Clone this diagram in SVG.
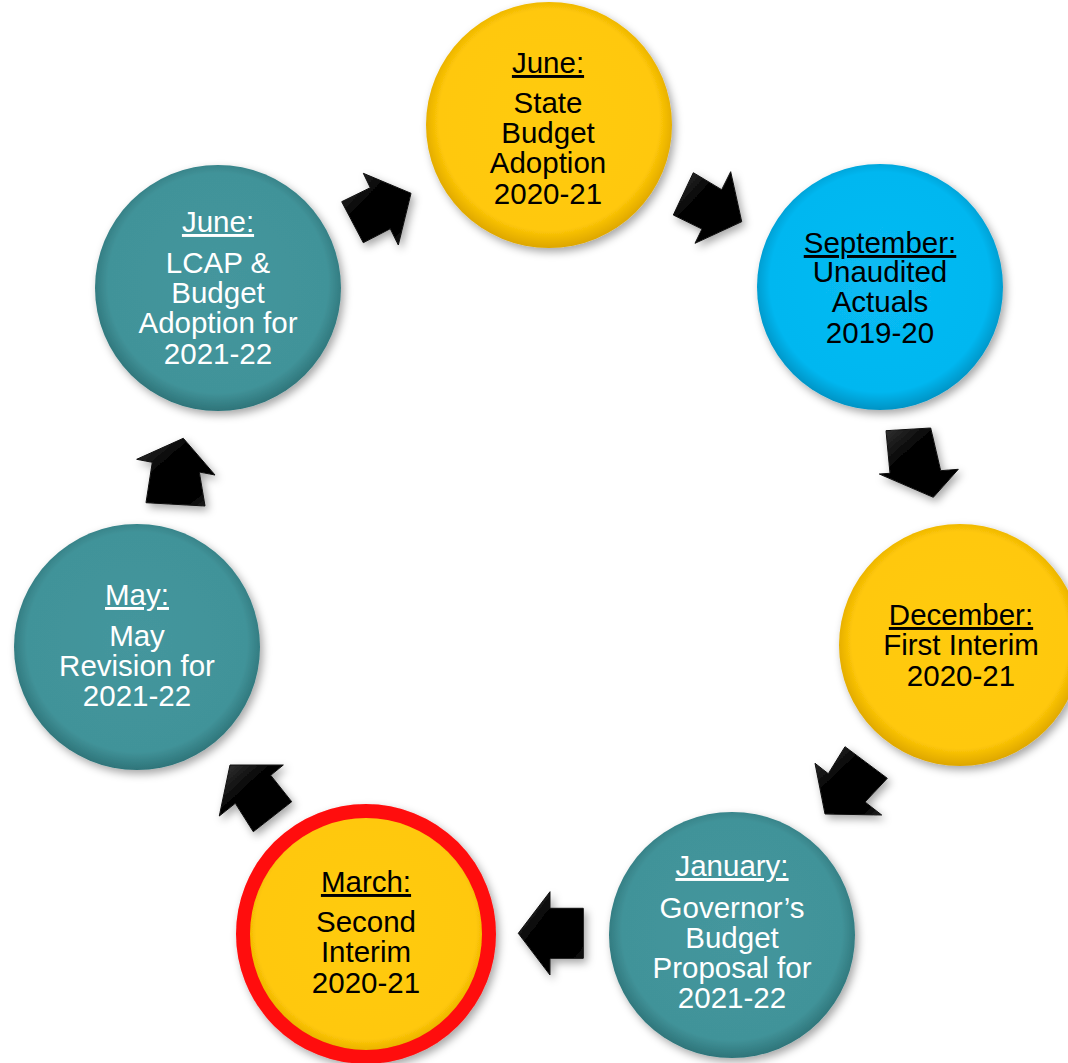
<svg xmlns="http://www.w3.org/2000/svg" width="1068" height="1063" viewBox="0 0 1068 1063">
<defs>
<filter id="shadow" x="-20%" y="-20%" width="140%" height="140%">
<feDropShadow dx="3" dy="4" stdDeviation="4" flood-color="#000" flood-opacity="0.35"/>
</filter>
<radialGradient id="gYellow" cx="50%" cy="48%" r="52%">
<stop offset="0%" stop-color="#FFCB10"/>
<stop offset="86%" stop-color="#FFC808"/>
<stop offset="100%" stop-color="#DDA600"/>
</radialGradient>
<radialGradient id="gTeal" cx="50%" cy="48%" r="52%">
<stop offset="0%" stop-color="#44969D"/>
<stop offset="86%" stop-color="#419399"/>
<stop offset="100%" stop-color="#2E7479"/>
</radialGradient>
<radialGradient id="gBlue" cx="50%" cy="48%" r="52%">
<stop offset="0%" stop-color="#08BBF3"/>
<stop offset="86%" stop-color="#04B7F0"/>
<stop offset="100%" stop-color="#0393C4"/>
</radialGradient>
<linearGradient id="gArrow" x1="0" y1="0" x2="1" y2="1">
<stop offset="0%" stop-color="#3a3a3a"/>
<stop offset="35%" stop-color="#050505"/>
<stop offset="80%" stop-color="#000"/>
<stop offset="100%" stop-color="#2a2a2a"/>
</linearGradient>
</defs>
<style>
.node circle{filter:url(#shadow)}
.yellow{fill:url(#gYellow)}
.teal{fill:url(#gTeal)}
.blue{fill:url(#gBlue)}
.ring{fill:url(#gYellow);stroke:#FF0A0A;stroke-width:14}
text{font-family:"Liberation Sans",Arial,sans-serif;font-size:29.5px;text-anchor:middle}
.dark{fill:#000}
.light{fill:#fff}
.hd{text-decoration:underline}
.arrow{fill:url(#gArrow);stroke:#111;stroke-width:1;stroke-linejoin:miter;filter:url(#shadow)}
</style>
<rect width="1068" height="1063" fill="#fff"/>

<g id="connectors">
<polygon class="arrow" points="341.7,201.7 370.3,187.7 363.3,173.3 411,193.3 398.3,245 390.3,228.7 363.3,242.7"/>
<polygon class="arrow" points="693.3,172.7 721.7,189.7 730.7,171.7 741.7,221.7 695,243.3 702,229 673.3,215"/>
<polygon class="arrow" points="886,430.7 930.7,428 940.7,470.7 958.3,469.3 933.3,497.3 879.3,474 890,473.3"/>
<polygon class="arrow" points="815,763.3 828.3,773.7 845,746.7 887.3,778.3 865,802 881.7,815 825,814"/>
<polygon class="arrow" points="518.3,933.3 550,891.7 550,908.3 583.3,908.3 583.3,958.3 550,958.3 550,975"/>
<polygon class="arrow" points="230,765 283.3,765 270.7,775.3 291.7,801.7 253.3,831.7 235.3,803.3 219.3,816"/>
<polygon class="arrow" points="183.3,438.3 215,475 199.3,472 205,506 146,502.7 152.3,462.3 136.7,459.3"/>
</g>

<g id="node-june-state" class="node">
<circle class="yellow" cx="549" cy="125" r="123"/>
<text class="dark hd" x="548" y="73">June:</text>
<text class="dark" x="548" y="113">State</text>
<text class="dark" x="548" y="143">Budget</text>
<text class="dark" x="548" y="173">Adoption</text>
<text class="dark" x="548" y="204">2020-21</text>
</g>

<g id="node-september" class="node">
<circle class="blue" cx="880" cy="287" r="123"/>
<text class="dark hd" x="880" y="253">September:</text>
<text class="dark" x="880" y="282">Unaudited</text>
<text class="dark" x="880" y="312">Actuals</text>
<text class="dark" x="880" y="343">2019-20</text>
</g>

<g id="node-december" class="node">
<circle class="yellow" cx="960" cy="645" r="121"/>
<text class="dark hd" x="961" y="625">December:</text>
<text class="dark" x="961" y="655">First Interim</text>
<text class="dark" x="961" y="686">2020-21</text>
</g>

<g id="node-january" class="node">
<circle class="teal" cx="732" cy="935" r="123"/>
<text class="light hd" x="732" y="876">January:</text>
<text class="light" x="732" y="918">Governor’s</text>
<text class="light" x="732" y="948">Budget</text>
<text class="light" x="732" y="978">Proposal for</text>
<text class="light" x="732" y="1008">2021-22</text>
</g>

<g id="node-march" class="node">
<circle class="ring" cx="366" cy="934" r="123"/>
<text class="dark hd" x="366" y="892">March:</text>
<text class="dark" x="366" y="932">Second</text>
<text class="dark" x="366" y="962">Interim</text>
<text class="dark" x="366" y="993">2020-21</text>
</g>

<g id="node-may" class="node">
<circle class="teal" cx="137" cy="647" r="123"/>
<text class="light hd" x="137" y="605">May:</text>
<text class="light" x="137" y="646">May</text>
<text class="light" x="137" y="676">Revision for</text>
<text class="light" x="137" y="706">2021-22</text>
</g>

<g id="node-june-lcap" class="node">
<circle class="teal" cx="218" cy="288" r="123"/>
<text class="light hd" x="218" y="232">June:</text>
<text class="light" x="218" y="273">LCAP &amp;</text>
<text class="light" x="218" y="303">Budget</text>
<text class="light" x="218" y="333">Adoption for</text>
<text class="light" x="218" y="364">2021-22</text>
</g>
</svg>
